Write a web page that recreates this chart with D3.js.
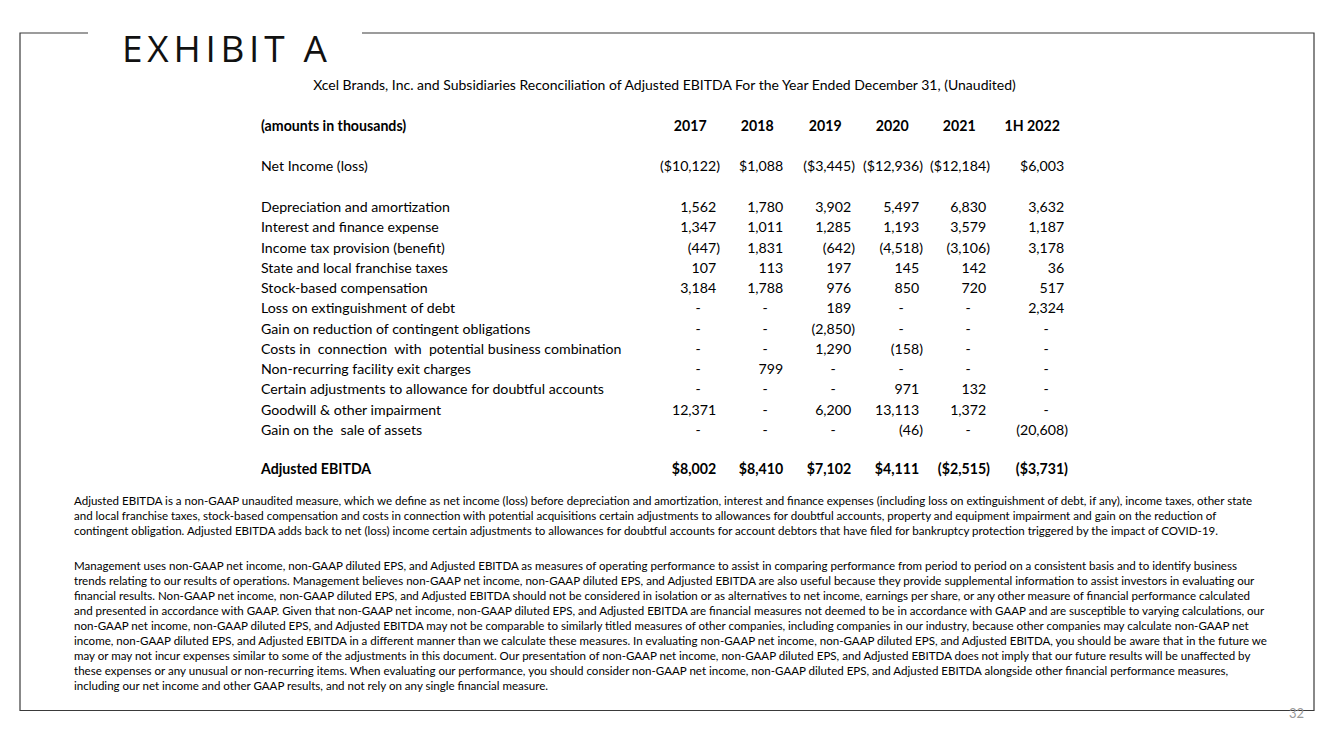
<!DOCTYPE html>
<html><head><meta charset="utf-8">
<script src="https://cdn.jsdelivr.net/npm/d3@7/dist/d3.min.js"></script>
<style>
html,body{margin:0;padding:0;background:#fff;}
svg{display:block;}
text{font-family:Lato,"Open Sans",sans-serif;fill:#000;white-space:pre;}
</style></head>
<body>
<script>
// ---------- DATA ----------
const title = "EXHIBIT A";
const subtitle = "Xcel Brands, Inc. and Subsidiaries Reconciliation of Adjusted EBITDA For the Year Ended December 31, (Unaudited)";
const headerLabel = "(amounts in thousands)";
const periods = ["2017", "2018", "2019", "2020", "2021", "1H 2022"];

const netIncomeLabel = "Net Income (loss)";
const netIncome = [-10122, 1088, -3445, -12936, -12184, 6003];

const adjustmentLabels = [
  "Depreciation and amortization",
  "Interest and finance expense",
  "Income tax provision (benefit)",
  "State and local franchise taxes",
  "Stock-based compensation",
  "Loss on extinguishment of debt",
  "Gain on reduction of contingent obligations",
  "Costs in  connection  with  potential business combination",
  "Non-recurring facility exit charges",
  "Certain adjustments to allowance for doubtful accounts",
  "Goodwill & other impairment",
  "Gain on the  sale of assets"
];
const depreciation   = [1562, 1780, 3902, 5497, 6830, 3632];
const interest       = [1347, 1011, 1285, 1193, 3579, 1187];
const incomeTax      = [-447, 1831, -642, -4518, -3106, 3178];
const franchiseTax   = [107, 113, 197, 145, 142, 36];
const stockComp      = [3184, 1788, 976, 850, 720, 517];
const debtLoss       = [null, null, 189, null, null, 2324];
const contingentGain = [null, null, -2850, null, null, null];
const combinationCost= [null, null, 1290, -158, null, null];
const facilityExit   = [null, 799, null, null, null, null];
const doubtfulAdj    = [null, null, null, 971, 132, null];
const impairment     = [12371, null, 6200, 13113, 1372, null];
const assetSaleGain  = [null, null, null, -46, null, -20608];
const adjustmentValues = [depreciation, interest, incomeTax, franchiseTax, stockComp,
  debtLoss, contingentGain, combinationCost, facilityExit, doubtfulAdj, impairment, assetSaleGain];

const ebitdaLabel = "Adjusted EBITDA";
const adjustedEbitda = [8002, 8410, 7102, 4111, -2515, -3731];

const note1 = [
  "Adjusted EBITDA is a non-GAAP unaudited measure, which we define as net income (loss) before depreciation and amortization, interest and finance expenses (including loss on extinguishment of debt, if any), income taxes, other state",
  "and local franchise taxes, stock-based compensation and costs in connection with potential acquisitions certain adjustments to allowances for doubtful accounts, property and equipment impairment and gain on the reduction of",
  "contingent obligation. Adjusted EBITDA adds back to net (loss) income certain adjustments to allowances for doubtful accounts for account debtors that have filed for bankruptcy protection triggered by the impact of COVID-19."
];
const note2 = [
  "Management uses non-GAAP net income, non-GAAP diluted EPS, and Adjusted EBITDA as measures of operating performance to assist in comparing performance from period to period on a consistent basis and to identify business",
  "trends relating to our results of operations. Management believes non-GAAP net income, non-GAAP diluted EPS, and Adjusted EBITDA are also useful because they provide supplemental information to assist investors in evaluating our",
  "financial results. Non-GAAP net income, non-GAAP diluted EPS, and Adjusted EBITDA should not be considered in isolation or as alternatives to net income, earnings per share, or any other measure of financial performance calculated",
  "and presented in accordance with GAAP. Given that non-GAAP net income, non-GAAP diluted EPS, and Adjusted EBITDA are financial measures not deemed to be in accordance with GAAP and are susceptible to varying calculations, our",
  "non-GAAP net income, non-GAAP diluted EPS, and Adjusted EBITDA may not be comparable to similarly titled measures of other companies, including companies in our industry, because other companies may calculate non-GAAP net",
  "income, non-GAAP diluted EPS, and Adjusted EBITDA in a different manner than we calculate these measures. In evaluating non-GAAP net income, non-GAAP diluted EPS, and Adjusted EBITDA, you should be aware that in the future we",
  "may or may not incur expenses similar to some of the adjustments in this document. Our presentation of non-GAAP net income, non-GAAP diluted EPS, and Adjusted EBITDA does not imply that our future results will be unaffected by",
  "these expenses or any unusual or non-recurring items. When evaluating our performance, you should consider non-GAAP net income, non-GAAP diluted EPS, and Adjusted EBITDA alongside other financial performance measures,",
  "including our net income and other GAAP results, and not rely on any single financial measure."
];
const pageNumber = "32";

// ---------- LAYOUT ----------
const W = 1333, H = 749;
const svg = d3.select("body").append("svg").attr("width", W).attr("height", H);

function measure(str, size, weight, family) {
  const t = svg.append("text").attr("font-size", size).attr("font-weight", weight || 400)
    .style("font-family", family || null).text(str);
  const w = t.node().getComputedTextLength();
  t.remove();
  return w;
}
function fit(str, target, weight, family) {
  return 100 * target / measure(str, 100, weight, family);
}

// frame
const frame = svg.append("g").attr("stroke", "#3a3a3a").attr("stroke-width", 1.2).attr("fill", "none");
frame.append("path").attr("d", `M88,33 H20 V710.5 H1314 V33 H362`);

// title
svg.append("text").attr("x", 122).attr("y", 62)
  .attr("font-size", 37).attr("font-weight", 400)
  .attr("textLength", 205).attr("lengthAdjust", "spacing")
  .style("font-family", "'Open Sans', Roboto, sans-serif")
  .style("fill", "#111")
  .text(title);

// subtitle
const subSize = fit(subtitle, 703, 400);
svg.append("text").attr("x", 664.5).attr("y", 85).attr("dy", "0.35em")
  .attr("text-anchor", "middle").attr("font-size", subSize).text(subtitle);

// table
const tableSize = fit(adjustmentLabels[0], 189, 400);
const labelX = 261;
const colRight = d3.scaleOrdinal().domain(periods).range([720, 787, 855, 923, 990, 1068]);
const headerOffset = d3.scaleOrdinal().domain(periods).range([26, 26, 26, 27, 27, 32]);
const parenW = measure(")", tableSize, 400);

const rowY = d3.scalePoint().domain(d3.range(adjustmentLabels.length)).range([207, 430]);

const fmt = d3.format(",");
function cell(v, currency) {
  if (v == null) return { s: "-", dash: true };
  const body = (currency ? "$" : "") + fmt(Math.abs(v));
  return v < 0 ? { s: "(" + body + ")", neg: true } : { s: body };
}
function drawRow(label, values, y, bold, currency) {
  const g = svg.append("g").attr("font-size", tableSize).attr("font-weight", bold ? 700 : 400);
  g.append("text").attr("x", labelX).attr("y", y).attr("dy", "0.35em").text(label);
  if (!values) return;
  g.selectAll("text.v").data(values.map((v, i) => ({ c: cell(v, currency), p: periods[i] })))
    .join("text").attr("class", "v")
    .attr("x", d => d.c.dash ? colRight(d.p) - parenW - 18 : d.c.neg ? colRight(d.p) : colRight(d.p) - parenW)
    .attr("y", y).attr("dy", "0.35em")
    .attr("text-anchor", d => d.c.dash ? "middle" : "end")
    .text(d => d.c.s);
}

// header
const hg = svg.append("g").attr("font-size", tableSize).attr("font-weight", 700);
hg.append("text").attr("x", labelX).attr("y", 126).attr("dy", "0.35em").text(headerLabel);
hg.selectAll("text.h").data(periods).join("text").attr("class", "h")
  .attr("x", p => colRight(p) - parenW - headerOffset(p)).attr("y", 126).attr("dy", "0.35em")
  .attr("text-anchor", "middle").text(p => p);

drawRow(netIncomeLabel, netIncome, 166, false, true);
adjustmentLabels.forEach((l, i) => drawRow(l, adjustmentValues[i], rowY(i), false, false));
drawRow(ebitdaLabel, adjustedEbitda, 469, true, true);

// notes
const noteSize = fit(note2[0], 1165, 400);
const ng = svg.append("g").attr("font-size", noteSize);
ng.selectAll("text.n1").data(note1).join("text").attr("class", "n1")
  .attr("x", 74).attr("y", (d, i) => 501 + i * 15).attr("dy", "0.35em").text(d => d);
ng.selectAll("text.n2").data(note2).join("text").attr("class", "n2")
  .attr("x", 74).attr("y", (d, i) => 566 + i * 15).attr("dy", "0.35em").text(d => d);

// page number
svg.append("text").attr("x", 1304).attr("y", 713).attr("dy", "0.35em")
  .attr("text-anchor", "end").attr("font-size", 13).style("fill", "#999").text(pageNumber);
</script>
</body></html>
